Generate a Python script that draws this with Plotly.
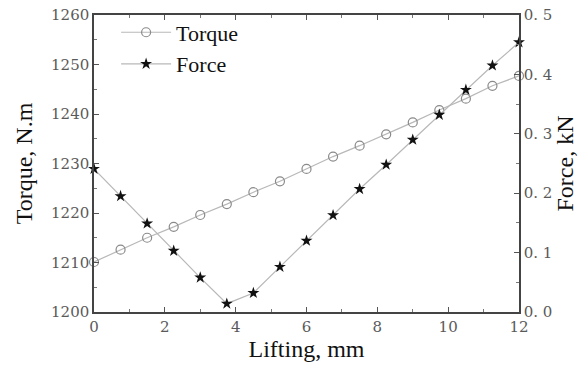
import plotly.graph_objects as go

lifting = [0, 0.75, 1.5, 2.25, 3.0, 3.75, 4.5, 5.25, 6.0, 6.75, 7.5, 8.25, 9.0, 9.75, 10.5, 11.25, 12.0]
torque = [1210.1, 1212.6, 1215.0, 1217.2, 1219.6, 1221.8, 1224.2, 1226.4, 1228.9, 1231.4, 1233.6, 1235.9,
          1238.3, 1240.8, 1243.1, 1245.7, 1247.7]
force = [0.241, 0.195, 0.149, 0.103, 0.058, 0.014, 0.032, 0.076, 0.120, 0.163, 0.207, 0.248,
         0.290, 0.332, 0.374, 0.415, 0.454]

x_ticks = [0, 2, 4, 6, 8, 10, 12]
torque_ticks = [1200, 1210, 1220, 1230, 1240, 1250, 1260]
force_ticks = [0.0, 0.1, 0.2, 0.3, 0.4, 0.5]
force_tick_text = ["0. 0", "0. 1", "0. 2", "0. 3", "0. 4", "0. 5"]

fig = go.Figure()
fig.add_trace(go.Scatter(
    x=lifting, y=torque, name="Torque", mode="lines+markers",
    line=dict(color="#b8b8b8", width=1.2),
    marker=dict(symbol="circle-open", size=9, color="#8a8a8a", line=dict(width=1.2)),
    legendgroup="a", cliponaxis=False,
))
fig.add_trace(go.Scatter(
    x=lifting, y=force, name="Force", mode="lines+markers", yaxis="y2",
    line=dict(color="#b8b8b8", width=1.2),
    marker=dict(symbol="star", size=9, color="#111111"),
    legendgroup="b", cliponaxis=False,
))

tickfont = dict(family="DejaVu Serif", size=15, color="#5a5a5a")
axis_common = dict(
    showline=True, linecolor="#444444", linewidth=1.5,
    ticks="inside", ticklen=5, tickcolor="#555555",
    showgrid=False, zeroline=False, tickfont=tickfont,
)
title_font = dict(family="Liberation Serif, Times New Roman, serif", size=24, color="#111111")

fig.update_layout(
    width=579, height=369,
    margin=dict(l=94, r=60, t=15, b=57, autoexpand=False),
    paper_bgcolor="white", plot_bgcolor="white",
    showlegend=True,
    legend=dict(x=0.052, y=1.012, xanchor="left", yanchor="top",
                font=dict(family="Liberation Serif, Times New Roman, serif", size=22, color="#111111"),
                bgcolor="rgba(0,0,0,0)", tracegroupgap=0, itemwidth=50),
    xaxis=dict(range=[0, 12], tickvals=x_ticks, mirror="ticks",
               minor=dict(dtick=1, ticks="inside", ticklen=3, tickcolor="#777777"),
               title=dict(text="Lifting, mm", font=title_font, standoff=2),
               **axis_common),
    yaxis=dict(range=[1200, 1260], tickvals=torque_ticks,
               minor=dict(dtick=5, ticks="inside", ticklen=3, tickcolor="#777777"),
               title=dict(text="Torque, N.m", font=title_font, standoff=12),
               **axis_common),
    yaxis2=dict(range=[0, 0.5], tickvals=force_ticks, ticktext=force_tick_text,
                overlaying="y", side="right",
                minor=dict(dtick=0.05, ticks="inside", ticklen=3, tickcolor="#777777"),
                title=dict(text="Force, kN", font=title_font, standoff=0),
                **axis_common),
)

fig.write_html("out.html")
